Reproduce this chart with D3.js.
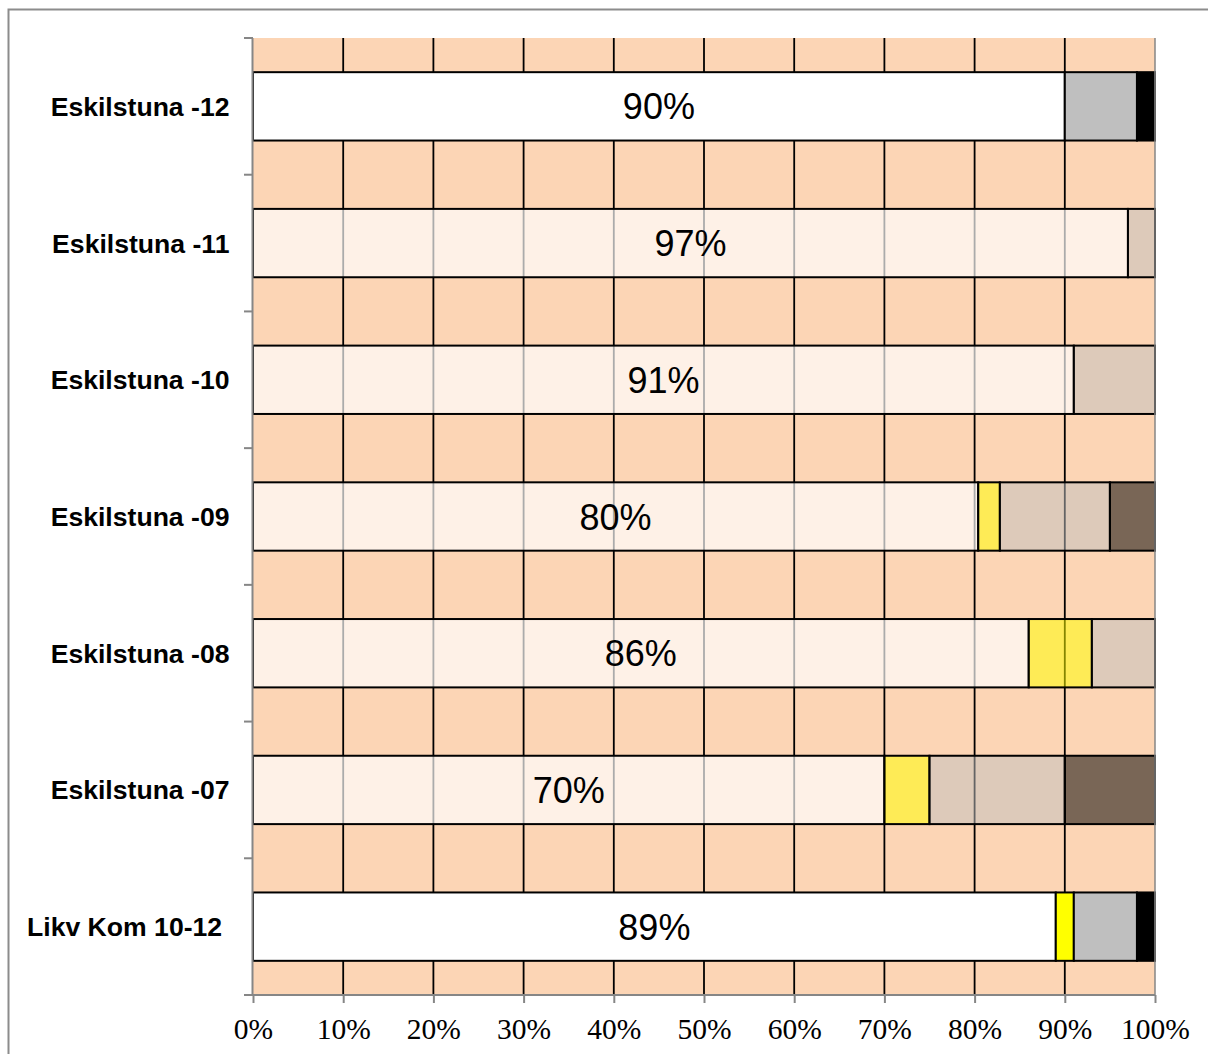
<!DOCTYPE html>
<html>
<head>
<meta charset="utf-8">
<script src="https://cdn.jsdelivr.net/npm/d3@7"></script>
<style>
  html, body { margin: 0; padding: 0; background: #fff; overflow: hidden; }
  svg { display: block; }
</style>
</head>
<body>
<svg id="chart" width="1208" height="1054"></svg>
<script>
// Rows, top to bottom
const categories = ["Eskilstuna -12", "Eskilstuna -11", "Eskilstuna -10", "Eskilstuna -09",
                    "Eskilstuna -08", "Eskilstuna -07", "Likv Kom 10-12 "];
// Share (%) per level, stacked left to right
const level1 = [90, 97, 91, 80.4, 86, 70, 89];
const level2 = [0, 0, 0, 2.4, 7, 5, 2];
const level3 = [8, 3, 9, 12.2, 7, 15, 7];
const level4 = [2, 0, 0, 5, 0, 10, 2];
const seriesKeys = ["level1", "level2", "level3", "level4"];
// x axis ticks
const tickValues = [0, 10, 20, 30, 40, 50, 60, 70, 80, 90, 100];

// Styling
const seriesColor = { level1: "#ffffff", level2: "#ffff00", level3: "#bfbfbf", level4: "#000000" };
const fadedOpacity = { level1: 0.67, level2: 0.52, level3: 0.52, level4: 0.52 };
const solidRows = new Set(["Eskilstuna -12", "Likv Kom 10-12 "]);
const peach = "#fcd5b5";
const axisGrey = "#868686";

const rows = categories.map((c, i) => ({
  category: c,
  level1: level1[i], level2: level2[i], level3: level3[i], level4: level4[i]
}));

const svg = d3.select("#chart");

// Outer chart frame (top and left edges fall inside the page)
svg.append("path")
  .attr("d", "M8.5,1054V9.5H1208")
  .attr("fill", "none").attr("stroke", "#8c8c8c").attr("stroke-width", 2);

const plotLeft = 253, plotRight = 1155, plotTop = 38, plotBottom = 995;

const x = d3.scaleLinear().domain([0, 100]).range([plotLeft, plotRight]);
const y = d3.scaleBand().domain(categories).range([plotTop, plotBottom])
  .paddingInner(0.5).paddingOuter(0.25);

// Plot background
svg.append("rect")
  .attr("x", plotLeft).attr("y", plotTop)
  .attr("width", plotRight - plotLeft).attr("height", plotBottom - plotTop)
  .attr("fill", peach);

// Vertical gridlines
svg.append("g")
  .selectAll("line")
  .data(tickValues.filter(v => v > 0 && v < 100))
  .join("line")
  .attr("x1", d => x(d)).attr("x2", d => x(d))
  .attr("y1", plotTop).attr("y2", plotBottom)
  .attr("stroke", "#000").attr("stroke-width", 1.8);

// Stacked bars
const stack = d3.stack().keys(seriesKeys);
const stacked = stack(rows);

const segs = [];
stacked.forEach(layer => {
  layer.forEach((s, i) => {
    const w = s[1] - s[0];
    if (w > 0) segs.push({ key: layer.key, category: rows[i].category, x0: s[0], x1: s[1] });
  });
});

svg.append("g")
  .selectAll("rect")
  .data(segs)
  .join("rect")
  .attr("x", d => x(d.x0))
  .attr("y", d => y(d.category))
  .attr("width", d => x(d.x1) - x(d.x0))
  .attr("height", y.bandwidth())
  .attr("fill", d => seriesColor[d.key])
  .attr("fill-opacity", d => solidRows.has(d.category) ? 1 : fadedOpacity[d.key])
  .attr("stroke", "#000")
  .attr("stroke-width", 2);

// Value labels on the first segment
svg.append("g")
  .selectAll("text")
  .data(rows)
  .join("text")
  .attr("x", d => x(d.level1 / 2))
  .attr("y", d => y(d.category) + y.bandwidth() / 2 + 13)
  .attr("text-anchor", "middle")
  .attr("font-family", "'Liberation Sans', Arial, sans-serif")
  .attr("font-size", 36)
  .attr("fill", "#000")
  .text(d => d3.format(".0f")(d.level1) + "%");

// Right edge line
svg.append("line")
  .attr("x1", plotRight).attr("x2", plotRight)
  .attr("y1", plotTop).attr("y2", plotBottom)
  .attr("stroke", axisGrey).attr("stroke-width", 1.5);

// Left axis: line with ticks at band boundaries
const yAxis = svg.append("g");
yAxis.append("line")
  .attr("x1", plotLeft - 0.5).attr("x2", plotLeft - 0.5)
  .attr("y1", plotTop).attr("y2", plotBottom)
  .attr("stroke", axisGrey).attr("stroke-width", 2);
const boundaries = d3.range(categories.length + 1).map(i => plotTop + i * y.step());
yAxis.selectAll("line.tick")
  .data(boundaries)
  .join("line")
  .attr("class", "tick")
  .attr("x1", plotLeft - 9).attr("x2", plotLeft)
  .attr("y1", d => d).attr("y2", d => d)
  .attr("stroke", axisGrey).attr("stroke-width", 2);

// Category labels
yAxis.selectAll("text")
  .data(categories)
  .join("text")
  .attr("x", 229.5)
  .attr("y", d => y(d) + y.bandwidth() / 2 + 9.5)
  .attr("text-anchor", "end")
  .attr("font-family", "'Liberation Sans', Arial, sans-serif")
  .attr("font-weight", "bold")
  .attr("font-size", 26.6)
  .attr("fill", "#000")
  .style("white-space", "pre")
  .text(d => d);

// Bottom axis
const xAxis = d3.axisBottom(x)
  .tickValues(tickValues)
  .tickSize(8)
  .tickFormat(d => d + "%");
const gx = svg.append("g")
  .attr("transform", `translate(0,${plotBottom})`)
  .call(xAxis);
gx.select(".domain")
  .attr("stroke", axisGrey).attr("stroke-width", 2)
  .attr("d", `M${plotLeft - 9},0H${plotRight}`);
gx.selectAll(".tick line").attr("stroke", axisGrey).attr("stroke-width", 2);
gx.selectAll(".tick text")
  .attr("y", 44).attr("dy", 0)
  .attr("font-family", "'Liberation Serif', 'Times New Roman', serif")
  .attr("font-size", 29.5)
  .attr("fill", "#000");
</script>
</body>
</html>
